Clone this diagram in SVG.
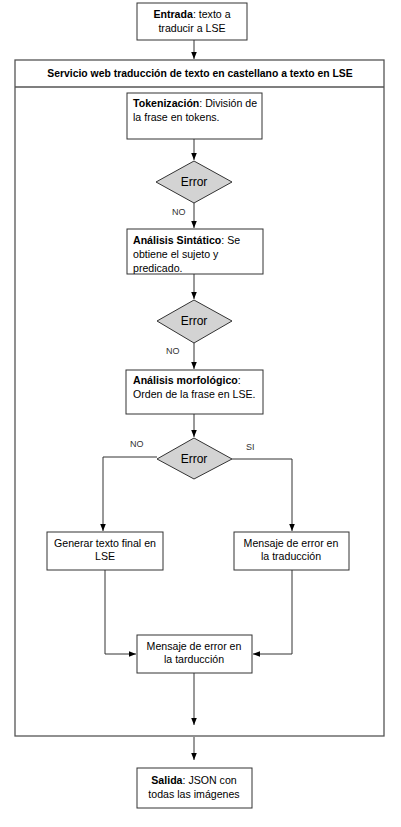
<svg xmlns="http://www.w3.org/2000/svg" width="401" height="827" viewBox="0 0 401 827">
<style>
.box{fill:#fff;stroke:#333;stroke-width:1}
.dia{fill:#d3d3d3;stroke:#333;stroke-width:1}
.cont{fill:#fff;stroke:#555;stroke-width:1.3}
text{font-family:"Liberation Sans",Arial,sans-serif;font-size:10.6px;fill:#000}
.c{text-anchor:middle}
.b{font-weight:bold}
.t{font-size:10.4px}
.lbl{font-size:9px;fill:#333}
.err{font-size:12px}
.ln{fill:none;stroke:#333;stroke-width:1;marker-end:url(#ah)}
</style>
<defs>
<marker id="ah" markerWidth="8" markerHeight="8" refX="7" refY="4" orient="auto" markerUnits="userSpaceOnUse">
<path d="M0,1.2 L7,4 L0,6.8 z" fill="#000"/>
</marker>
</defs>
<rect width="401" height="827" fill="#fff"/>
<g id="container">
<rect class="cont" x="15" y="60" width="369" height="676"/>
<line x1="15" y1="87" x2="384" y2="87" stroke="#555" stroke-width="1.3"/>
<text class="c b t" x="200" y="77">Servicio web traducción de texto en castellano a texto en LSE</text>
</g>
<g id="connectors">
<line class="ln" x1="194" y1="40" x2="194" y2="59"/>
<line class="ln" x1="194" y1="139" x2="194" y2="160"/>
<line class="ln" x1="194" y1="203" x2="194" y2="228"/>
<line class="ln" x1="194" y1="274" x2="194" y2="299"/>
<line class="ln" x1="194" y1="343" x2="194" y2="369"/>
<line class="ln" x1="194" y1="414" x2="194" y2="437"/>
<polyline class="ln" points="157,457 103,457 103,531"/>
<polyline class="ln" points="232,459 292,459 292,531"/>
<polyline class="ln" points="105,570 105,654 136,654"/>
<polyline class="ln" points="292,570 292,654 253,654"/>
<line class="ln" x1="194" y1="673" x2="194" y2="725"/>
<line class="ln" x1="194" y1="737" x2="194" y2="760"/>
<text class="lbl" x="172" y="215">NO</text>
<text class="lbl" x="166" y="354">NO</text>
<text class="lbl" x="130" y="447">NO</text>
<text class="lbl" x="246" y="450">SI</text>
</g>
<g id="entrada">
<rect class="box" x="137" y="3" width="110" height="37"/>
<text class="c" x="192" y="18"><tspan class="b">Entrada</tspan>: texto a</text>
<text class="c" x="192" y="32">traducir a LSE</text>
</g>
<g id="tokenizacion">
<rect class="box" x="127" y="93" width="135" height="46"/>
<text x="133" y="107"><tspan class="b">Tokenización</tspan>: División de</text>
<text x="133" y="121">la frase en tokens.</text>
</g>
<g id="error1">
<polygon class="dia" points="194,161 232,182 194,203 156,182"/>
<text class="c err" x="194" y="186">Error</text>
</g>
<g id="sintactico">
<rect class="box" x="127" y="229" width="136" height="45"/>
<text x="133" y="244"><tspan class="b">Análisis Sintático</tspan>: Se</text>
<text x="133" y="258">obtiene el sujeto y</text>
<text x="133" y="272">predicado.</text>
</g>
<g id="error2">
<polygon class="dia" points="194,300 232,321 194,343 157,321"/>
<text class="c err" x="194" y="325">Error</text>
</g>
<g id="morfologico">
<rect class="box" x="126" y="370" width="137" height="44"/>
<text x="133" y="384"><tspan class="b">Análisis morfológico</tspan>:</text>
<text x="133" y="398">Orden de la frase en LSE.</text>
</g>
<g id="error3">
<polygon class="dia" points="194,438 232,459 194,479 157,459"/>
<text class="c err" x="194" y="463">Error</text>
</g>
<g id="generar">
<rect class="box" x="47" y="532" width="116" height="38"/>
<text class="c" x="105" y="547">Generar texto final en</text>
<text class="c" x="105" y="560">LSE</text>
</g>
<g id="mensaje1">
<rect class="box" x="234" y="532" width="115" height="38"/>
<text class="c" x="291" y="547">Mensaje de error en</text>
<text class="c" x="291" y="560">la traducción</text>
</g>
<g id="mensaje2">
<rect class="box" x="137" y="635" width="115" height="38"/>
<text class="c" x="194" y="650">Mensaje de error en</text>
<text class="c" x="194" y="663">la tarducción</text>
</g>
<g id="salida">
<rect class="box" x="137" y="768" width="115" height="40"/>
<text class="c" x="194" y="784"><tspan class="b">Salida</tspan>: JSON con</text>
<text class="c" x="194" y="798">todas las imágenes</text>
</g>
</svg>
